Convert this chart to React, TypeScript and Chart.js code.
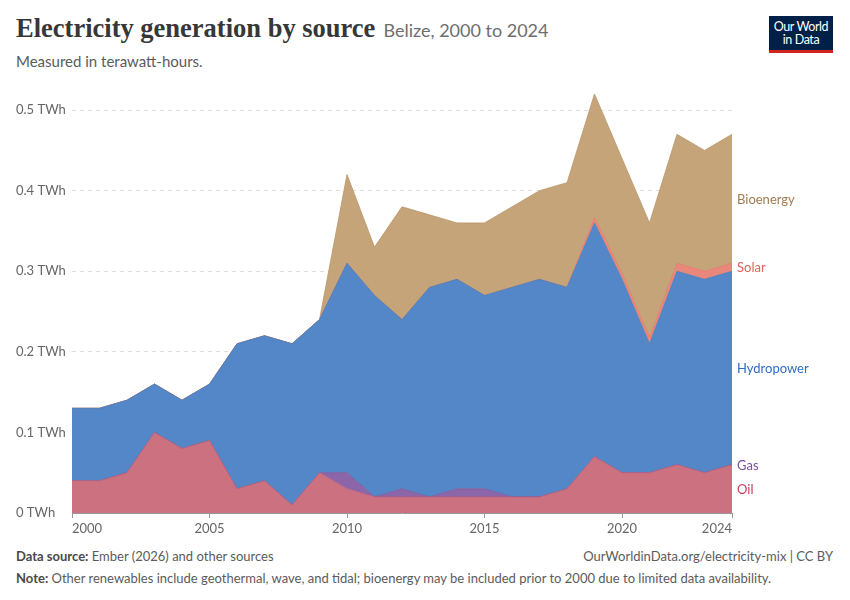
import React, { useEffect, useRef } from "react";
import { Chart, registerables } from "chart.js";

Chart.register(...registerables);

const years = [2000, 2001, 2002, 2003, 2004, 2005, 2006, 2007, 2008, 2009, 2010, 2011, 2012, 2013, 2014, 2015, 2016, 2017, 2018, 2019, 2020, 2021, 2022, 2023, 2024];
const oil = [0.04, 0.04, 0.05, 0.1, 0.08, 0.09, 0.03, 0.04, 0.01, 0.05, 0.03, 0.02, 0.02, 0.02, 0.02, 0.02, 0.02, 0.02, 0.03, 0.07, 0.05, 0.05, 0.06, 0.05, 0.06];
const gas = [0, 0, 0, 0, 0, 0, 0, 0, 0, 0, 0.02, 0, 0.01, 0, 0.01, 0.01, 0, 0, 0, 0, 0, 0, 0, 0, 0];
const hydropower = [0.09, 0.09, 0.09, 0.06, 0.06, 0.07, 0.18, 0.18, 0.2, 0.19, 0.26, 0.25, 0.21, 0.26, 0.26, 0.24, 0.26, 0.27, 0.25, 0.29, 0.24, 0.16, 0.24, 0.24, 0.24];
const solar = [0, 0, 0, 0, 0, 0, 0, 0, 0, 0, 0, 0, 0, 0, 0, 0, 0, 0, 0, 0.007, 0.007, 0.008, 0.01, 0.01, 0.01];
const bioenergy = [0, 0, 0, 0, 0, 0, 0, 0, 0, 0, 0.11, 0.06, 0.14, 0.09, 0.07, 0.09, 0.1, 0.11, 0.13, 0.153, 0.143, 0.142, 0.16, 0.15, 0.16];
const xTicks = [2000, 2005, 2010, 2015, 2020, 2024];
const yTicks = [0, 0.1, 0.2, 0.3, 0.4, 0.5];

const seriesNames = ["Oil", "Gas", "Hydropower", "Solar", "Bioenergy"];
const seriesValues = [oil, gas, hydropower, solar, bioenergy];
const fillColors = ["#cc7180", "#8c66a9", "#5387c7", "#e8877a", "#c6a479"];
const lineColors = ["#b9607a", "#7a559a", "#4b7bb9", "#e07868", "#b8956b"];
const labelColors = ["#c5405f", "#7b4da3", "#2f6cc4", "#e0645a", "#a47a4e"];

const endLabels = {
  id: "endLabels",
  afterDatasetsDraw(chart: any) {
    const { ctx, chartArea, scales } = chart;
    const y = scales.y;
    const last = years.length - 1;
    let cum = 0;
    ctx.save();
    ctx.font = "13px Lato";
    ctx.textBaseline = "middle";
    ctx.textAlign = "left";
    seriesValues.forEach((vals, i) => {
      const lo = cum;
      cum += vals[last];
      const mid = (y.getPixelForValue(lo) + y.getPixelForValue(cum)) / 2;
      ctx.fillStyle = labelColors[i];
      ctx.fillText(seriesNames[i], chartArea.right + 5, mid + 1);
    });
    ctx.restore();
  },
};

function ChartView() {
  const ref = useRef<HTMLCanvasElement>(null);
  useEffect(() => {
    if (!ref.current) return;
    Chart.defaults.font.family = "Lato";
    const chart = new Chart(ref.current, {
      type: "line",
      data: {
        labels: years,
        datasets: seriesValues.map((vals, i) => ({
          label: seriesNames[i],
          data: years.map((yr, j) => ({ x: yr, y: vals[j] })),
          backgroundColor: fillColors[i],
          borderColor: lineColors[i],
          borderWidth: 0.8,
          pointRadius: 0,
          tension: 0,
          fill: i === 0 ? "origin" : "-1",
        })),
      },
      options: {
        animation: false,
        responsive: false,
        maintainAspectRatio: false,
        layout: { padding: { left: 16, right: 118, top: 14, bottom: 3 } },
        plugins: { legend: { display: false }, tooltip: { enabled: false } },
        scales: {
          x: {
            type: "linear",
            min: 2000,
            max: 2024,
            afterBuildTicks: (scale: any) => {
              scale.ticks = xTicks.map((v) => ({ value: v }));
            },
            afterFit: (scale: any) => {
              scale.height = 24;
            },
            ticks: {
              align: "inner",
              autoSkip: false,
              maxRotation: 0,
              padding: 3,
              color: "#666",
              font: { size: 13, family: "Lato" },
              callback: (v: any) => String(v),
            },
            grid: { drawOnChartArea: false, drawTicks: true, tickLength: 5, color: "#999" },
            border: { display: true, color: "#999" },
          },
          y: {
            type: "linear",
            stacked: true,
            min: 0,
            max: 0.52,
            afterBuildTicks: (scale: any) => {
              scale.ticks = yTicks.map((v) => ({ value: v }));
            },
            afterFit: (scale: any) => {
              scale.width = 56;
            },
            ticks: {
              crossAlign: "far",
              color: "#666",
              font: { size: 13, family: "Lato" },
              callback: (v: any) => (v === 0 ? "0 TWh" : `${Number(v).toFixed(1)} TWh`),
            },
            grid: {
              drawTicks: false,
              color: (c: any) => (c.tick && c.tick.value === 0 ? "rgba(0,0,0,0)" : "#dddddd"),
            },
            border: { display: false, dash: [4, 4] },
          },
        },
      },
      plugins: [endLabels],
    } as any);
    return () => chart.destroy();
  }, []);
  return <canvas ref={ref} width={850} height={460} style={{ position: "absolute", left: 0, top: 80, width: 850, height: 460 }} />;
}

export default function App() {
  const gray = "#5b5b5b";
  return (
    <div style={{ position: "absolute", left: 0, top: 0, width: 850, height: 600, background: "#fff", fontFamily: "Lato", overflow: "hidden" }}>
      <div style={{ position: "absolute", left: 16, top: 15, whiteSpace: "nowrap", lineHeight: 1 }}>
        <span style={{ fontFamily: "'Liberation Serif', serif", fontWeight: 700, fontSize: 26.5, color: "#373737" }}>Electricity generation by source</span>
        <span style={{ fontFamily: "Lato", fontSize: 18, color: "#6e6e6e", marginLeft: 8 }}>Belize, 2000 to 2024</span>
      </div>
      <div style={{ position: "absolute", left: 16, top: 52, fontSize: 15, color: gray, whiteSpace: "nowrap" }}>Measured in terawatt-hours.</div>
      <div style={{ position: "absolute", left: 769, top: 16, width: 64, height: 34, background: "#002147", borderBottom: "3px solid #ce261e", color: "#fff", fontSize: 12.5, lineHeight: "13px", textAlign: "center", display: "flex", alignItems: "center", justifyContent: "center", letterSpacing: -0.4 }}>
        <div>Our World<br />in Data</div>
      </div>
      <ChartView />
      <div style={{ position: "absolute", left: 16, top: 548, fontSize: 13, color: gray, whiteSpace: "nowrap" }}>
        <b style={{ color: "#4a4a4a" }}>Data source:</b> Ember (2026) and other sources
      </div>
      <div style={{ position: "absolute", right: 17, top: 548, fontSize: 13, color: gray, whiteSpace: "nowrap" }}>OurWorldinData.org/electricity-mix | CC BY</div>
      <div style={{ position: "absolute", left: 16, top: 570, fontSize: 13, color: gray, whiteSpace: "nowrap" }}>
        <b style={{ color: "#4a4a4a" }}>Note:</b> Other renewables include geothermal, wave, and tidal; bioenergy may be included prior to 2000 due to limited data availability.
      </div>
    </div>
  );
}
